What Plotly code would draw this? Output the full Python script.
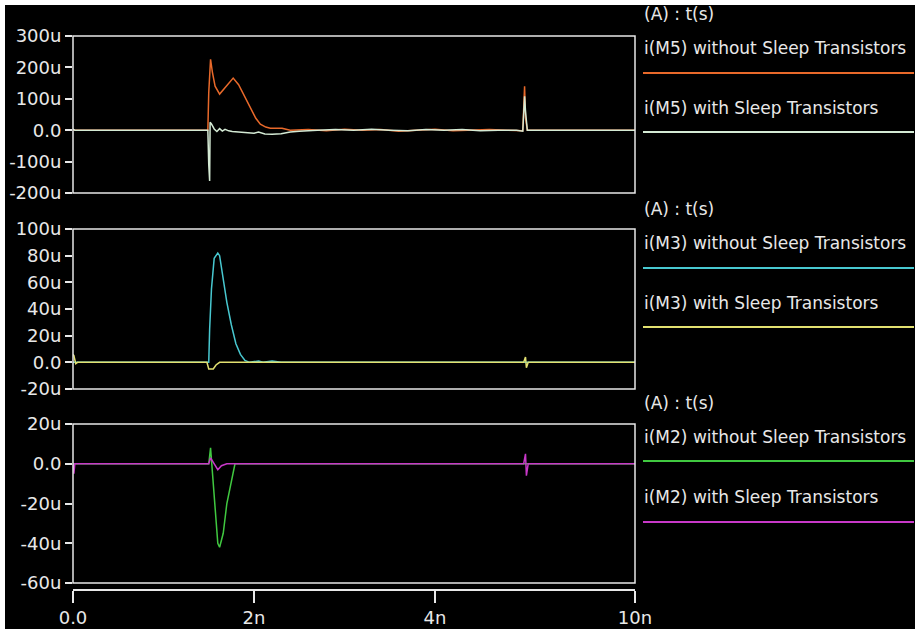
import plotly.graph_objects as go

# ---- data (time in ns, current in µA) ----
t_m5_wo = [0, 0.02, 0.05, 1.0, 1.49, 1.50, 1.52, 1.54, 1.57, 1.62, 1.67, 1.72, 1.77, 1.83, 1.90, 1.96, 2.02, 2.07, 2.13, 2.18, 2.31, 2.4, 2.6, 2.8, 3.0, 3.2, 3.4, 3.6, 3.8, 4.0, 4.2, 4.4, 4.6, 4.8, 4.97, 4.99, 5.0, 5.02, 5.05, 5.5, 6.21]
i_m5_wo = [2, 0, 0, 0, 0, 120, 226, 185, 140, 115, 132, 152, 166, 145, 105, 67, 38, 19, 10, 6, 6, 0, 2, -2, 3, 0, 2, -3, 0, 3, -2, 0, 2, 0, -2, 140, 40, 0, 0, 0, 0]

t_m5_w = [0, 0.02, 0.05, 1.0, 1.49, 1.50, 1.51, 1.515, 1.53, 1.56, 1.59, 1.62, 1.65, 1.68, 1.72, 1.76, 1.82, 1.9, 2.0, 2.05, 2.12, 2.2, 2.3, 2.4, 2.5, 2.7, 2.9, 3.1, 3.3, 3.5, 3.7, 3.9, 4.1, 4.3, 4.5, 4.7, 4.9, 4.97, 4.99, 5.0, 5.02, 5.05, 5.5, 6.21]
i_m5_w = [3, 0, 0, 0, 0, -110, -162, 25, 20, 4, -4, 5, -3, 3, -2, -4, -6, -8, -10, -6, -12, -13, -11, -6, -3, 0, 2, 0, 3, 0, -2, 2, 0, 2, -2, 0, 0, -3, 108, 60, 0, 0, 0, 0]

t_m3_wo = [0, 1.0, 1.50, 1.51, 1.53, 1.56, 1.60, 1.62, 1.66, 1.70, 1.75, 1.80, 1.85, 1.90, 1.95, 2.05, 2.1, 2.2, 2.3, 3.0, 6.21]
i_m3_wo = [0, 0, 0, 25, 55, 78, 82, 80, 62, 45, 28, 14, 6, 1.5, 0, 1, 0, 1, 0, 0, 0]

t_m3_w = [0, 0.01, 0.03, 0.05, 1.0, 1.48, 1.50, 1.55, 1.58, 1.62, 3.0, 4.98, 5.0, 5.01, 5.03, 6.21]
i_m3_w = [6, 5, -1, 0, 0, 0, -5, -5, -2, 0, 0, 0, 4, -4, 0, 0]

t_m2_wo = [0, 1.0, 1.50, 1.52, 1.53, 1.56, 1.60, 1.62, 1.66, 1.70, 1.75, 1.79, 2.5, 4.0, 6.21]
i_m2_wo = [0, 0, 0, 8, 2, -20, -40, -42, -35, -20, -8, 0, 0, 0, 0]

t_m2_w = [0, 0.01, 0.02, 1.0, 1.5, 1.52, 1.56, 1.60, 1.64, 1.70, 3.0, 4.98, 5.0, 5.01, 5.03, 6.21]
i_m2_w = [0, -5, 0, 0, 0, 3, 0, -3, -1, 0, 0, 0, 5, -6, 0, 0]

x_tickvals = [0, 2, 4, 6.21]
x_ticktext = ["0.0", "2n", "4n", "10n"]
y1_ticks = [300, 200, 100, 0, -100, -200]
y1_text = ["300u", "200u", "100u", "0.0", "-100u", "-200u"]
y2_ticks = [100, 80, 60, 40, 20, 0, -20]
y2_text = ["100u", "80u", "60u", "40u", "20u", "0.0", "-20u"]
y3_ticks = [20, 0, -20, -40, -60]
y3_text = ["20u", "0.0", "-20u", "-40u", "-60u"]

names = ["i(M5) without Sleep Transistors", "i(M5) with Sleep Transistors",
         "i(M3) without Sleep Transistors", "i(M3) with Sleep Transistors",
         "i(M2) without Sleep Transistors", "i(M2) with Sleep Transistors"]
colors = ["#e8692a", "#d4ead4", "#48c8d0", "#e2e070", "#40c840", "#c838c8"]

OFF = 5
W, H = 915 - OFF, 629 - OFF
def py(p):
    return 1 - (p - OFF) / H
def px(p):
    return (p - OFF) / W

fig = go.Figure()
series = [(t_m5_wo, i_m5_wo, "y"), (t_m5_w, i_m5_w, "y"),
          (t_m3_wo, i_m3_wo, "y2"), (t_m3_w, i_m3_w, "y2"),
          (t_m2_wo, i_m2_wo, "y3"), (t_m2_w, i_m2_w, "y3")]
for k, (t, v, ya) in enumerate(series):
    fig.add_trace(go.Scatter(x=t, y=v, xaxis="x", yaxis=ya, mode="lines",
                             name=names[k], line=dict(color=colors[k], width=1.5),
                             showlegend=False))

fontc = "#e8e8e8"
tickfont = dict(family="DejaVu Sans, sans-serif", size=18, color=fontc)
x0, x1 = 73, 635
panels = [(36, 193, (-200, 300), y1_ticks, y1_text),
          (229, 389, (-20, 100), y2_ticks, y2_text),
          (424, 583, (-60, 20), y3_ticks, y3_text)]

layout = dict(
    template="none",
    width=W, height=H, margin=dict(l=0, r=0, t=0, b=0, autoexpand=False),
    paper_bgcolor="black", plot_bgcolor="black",
    xaxis=dict(domain=[px(x0), px(x1)], range=[0, 6.21], anchor="free",
               position=py(590), showline=True, linecolor=fontc, linewidth=1.5,
               ticks="outside", ticklen=12, tickwidth=1.5, tickcolor=fontc,
               tickvals=x_tickvals, ticktext=x_ticktext, tickfont=tickfont,
               showgrid=False, zeroline=False, automargin=False),
)
shapes = []
annotations = []
for k, (top, bot, rng, tv, tt) in enumerate(panels):
    key = "yaxis" if k == 0 else f"yaxis{k+1}"
    layout[key] = dict(domain=[py(bot), py(top)], range=list(rng), anchor="x",
                       showline=False, ticks="outside", ticklen=7, tickwidth=1.5,
                       tickcolor=fontc, tickvals=tv, ticktext=tt, tickfont=tickfont,
                       showgrid=False, zeroline=False, automargin=False)
    shapes.append(dict(type="rect", xref="paper", yref="paper",
                       x0=px(x0), x1=px(x1), y0=py(bot), y1=py(top),
                       line=dict(color=fontc, width=1.5), layer="above"))

legfont = dict(family="DejaVu Sans, sans-serif", size=17, color=fontc)
leg_rows = [(14, 48, 73, 108, 132), (209, 243, 268, 303, 327), (403, 437, 461, 497, 522)]
for k, (hy, l1, s1, l2, s2) in enumerate(leg_rows):
    annotations.append(dict(text="(A) : t(s)", x=px(642), y=py(hy), xref="paper", yref="paper",
                            xanchor="left", yanchor="middle", showarrow=False, font=legfont))
    annotations.append(dict(text=names[2*k], x=px(642), y=py(l1), xref="paper", yref="paper",
                            xanchor="left", yanchor="middle", showarrow=False, font=legfont))
    annotations.append(dict(text=names[2*k+1], x=px(642), y=py(l2), xref="paper", yref="paper",
                            xanchor="left", yanchor="middle", showarrow=False, font=legfont))
    for s, c in ((s1, colors[2*k]), (s2, colors[2*k+1])):
        shapes.append(dict(type="line", xref="paper", yref="paper",
                           x0=px(643), x1=px(914), y0=py(s), y1=py(s),
                           line=dict(color=c, width=2)))

layout["shapes"] = shapes
layout["annotations"] = annotations
fig.update_layout(**layout)
fig.write_html("out.html",
               post_script="document.body.style.margin='5px 0 0 5px';document.body.style.overflow='hidden';")
